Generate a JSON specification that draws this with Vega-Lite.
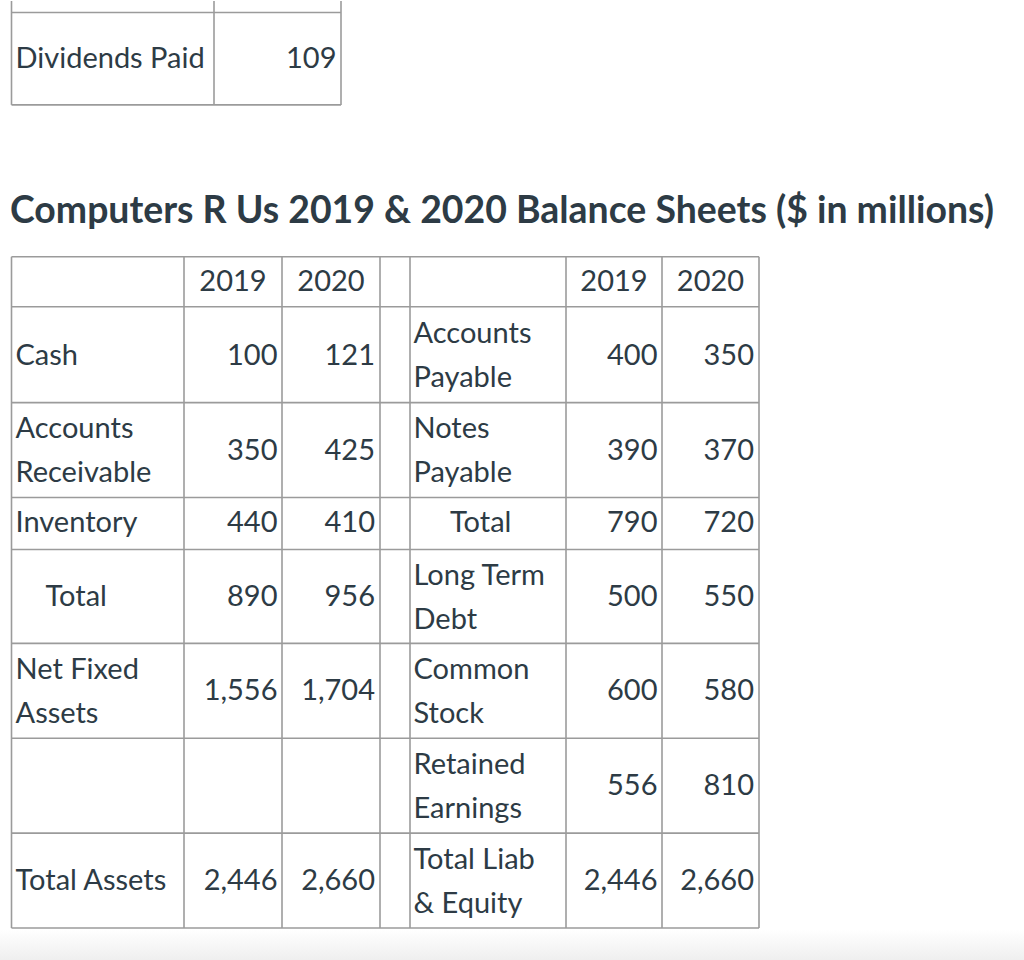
{
  "$schema": "https://vega.github.io/schema/vega-lite/v6.json",
  "width": 1024,
  "height": 960,
  "autosize": {"type": "fit", "contains": "padding"},
  "padding": 0,
  "background": "white",
  "config": {"view": {"stroke": null}},
  "datasets": {
    "band": [{"x": 0, "x2": 1024, "y": 929, "y2": 960}],
    "vlines": [
      {"x": 11.5, "y": 0, "y2": 104},
      {"x": 214, "y": 0, "y2": 104},
      {"x": 341, "y": 0, "y2": 104},
      {"x": 11.5, "y": 256, "y2": 928},
      {"x": 184, "y": 256, "y2": 928},
      {"x": 282, "y": 256, "y2": 928},
      {"x": 380, "y": 256, "y2": 928},
      {"x": 410, "y": 256, "y2": 928},
      {"x": 566, "y": 256, "y2": 928},
      {"x": 662, "y": 256, "y2": 928},
      {"x": 759, "y": 256, "y2": 928}
    ],
    "hlines": [
      {"y": 11.5, "x": 11.5, "x2": 341},
      {"y": 104, "x": 11.5, "x2": 341},
      {"y": 256, "x": 11.5, "x2": 759},
      {"y": 306, "x": 11.5, "x2": 759},
      {"y": 402, "x": 11.5, "x2": 759},
      {"y": 497, "x": 11.5, "x2": 759},
      {"y": 549, "x": 11.5, "x2": 759},
      {"y": 643, "x": 11.5, "x2": 759},
      {"y": 738, "x": 11.5, "x2": 759},
      {"y": 833, "x": 11.5, "x2": 759},
      {"y": 928, "x": 11.5, "x2": 759}
    ],
    "labels": [
      {"label": "Dividends Paid", "x": 15.5, "y": 58},
      {"label": "Cash", "x": 15.5, "y": 355},
      {"label": "Inventory", "x": 15.5, "y": 523},
      {"label": "Total", "x": 45.5, "y": 597},
      {"label": "Total Assets", "x": 15.5, "y": 881},
      {"label": "Total", "x": 450, "y": 523}
    ],
    "labels2": [
      {"label": "Accounts\nReceivable", "x": 15.5, "y": 450},
      {"label": "Net Fixed\nAssets", "x": 15.5, "y": 691},
      {"label": "Accounts\nPayable", "x": 413.5, "y": 355},
      {"label": "Notes\nPayable", "x": 413.5, "y": 450},
      {"label": "Long Term\nDebt", "x": 413.5, "y": 597},
      {"label": "Common\nStock", "x": 413.5, "y": 691},
      {"label": "Retained\nEarnings", "x": 413.5, "y": 786},
      {"label": "Total Liab\n& Equity", "x": 413.5, "y": 881}
    ],
    "headers": [
      {"year": "2019", "x": 233, "y": 281},
      {"year": "2020", "x": 331, "y": 281},
      {"year": "2019", "x": 614, "y": 281},
      {"year": "2020", "x": 710.5, "y": 281}
    ],
    "values": [
      {"item": "Dividends Paid", "value": 109, "x": 336.5, "y": 58},
      {"item": "Cash", "year": 2019, "value": 100, "x": 277.5, "y": 355},
      {"item": "Cash", "year": 2020, "value": 121, "x": 375, "y": 355},
      {"item": "Accounts Receivable", "year": 2019, "value": 350, "x": 277.5, "y": 450},
      {"item": "Accounts Receivable", "year": 2020, "value": 425, "x": 375, "y": 450},
      {"item": "Inventory", "year": 2019, "value": 440, "x": 277.5, "y": 523},
      {"item": "Inventory", "year": 2020, "value": 410, "x": 375, "y": 523},
      {"item": "Total Current Assets", "year": 2019, "value": 890, "x": 277.5, "y": 597},
      {"item": "Total Current Assets", "year": 2020, "value": 956, "x": 375, "y": 597},
      {"item": "Net Fixed Assets", "year": 2019, "value": 1556, "x": 277.5, "y": 691},
      {"item": "Net Fixed Assets", "year": 2020, "value": 1704, "x": 375, "y": 691},
      {"item": "Total Assets", "year": 2019, "value": 2446, "x": 277.5, "y": 881},
      {"item": "Total Assets", "year": 2020, "value": 2660, "x": 375, "y": 881},
      {"item": "Accounts Payable", "year": 2019, "value": 400, "x": 657.5, "y": 355},
      {"item": "Accounts Payable", "year": 2020, "value": 350, "x": 754, "y": 355},
      {"item": "Notes Payable", "year": 2019, "value": 390, "x": 657.5, "y": 450},
      {"item": "Notes Payable", "year": 2020, "value": 370, "x": 754, "y": 450},
      {"item": "Total Current Liabilities", "year": 2019, "value": 790, "x": 657.5, "y": 523},
      {"item": "Total Current Liabilities", "year": 2020, "value": 720, "x": 754, "y": 523},
      {"item": "Long Term Debt", "year": 2019, "value": 500, "x": 657.5, "y": 597},
      {"item": "Long Term Debt", "year": 2020, "value": 550, "x": 754, "y": 597},
      {"item": "Common Stock", "year": 2019, "value": 600, "x": 657.5, "y": 691},
      {"item": "Common Stock", "year": 2020, "value": 580, "x": 754, "y": 691},
      {"item": "Retained Earnings", "year": 2019, "value": 556, "x": 657.5, "y": 786},
      {"item": "Retained Earnings", "year": 2020, "value": 810, "x": 754, "y": 786},
      {"item": "Total Liab & Equity", "year": 2019, "value": 2446, "x": 657.5, "y": 881},
      {"item": "Total Liab & Equity", "year": 2020, "value": 2660, "x": 754, "y": 881}
    ],
    "title": [{"text": "Computers R Us 2019 & 2020 Balance Sheets ($ in millions)", "x": 10, "y": 211}]
  },
  "layer": [
    {
      "data": {"name": "band"},
      "mark": {"type": "rect", "color": {"gradient": "linear", "x1": 0, "y1": 0, "x2": 0, "y2": 1, "stops": [{"offset": 0, "color": "#ffffff"}, {"offset": 1, "color": "#efefef"}]}},
      "encoding": {
        "x": {"field": "x", "type": "quantitative", "scale": {"domain": [0, 1024], "nice": false, "zero": false}, "axis": null},
        "x2": {"field": "x2"},
        "y": {"field": "y", "type": "quantitative", "scale": {"domain": [0, 960], "nice": false, "zero": false, "reverse": true}, "axis": null},
        "y2": {"field": "y2"}
      }
    },
    {
      "data": {"name": "vlines"},
      "mark": {"type": "rule", "color": "#9b9b9b", "strokeWidth": 1.6},
      "encoding": {
        "x": {"field": "x", "type": "quantitative"},
        "y": {"field": "y", "type": "quantitative"},
        "y2": {"field": "y2"}
      }
    },
    {
      "data": {"name": "hlines"},
      "mark": {"type": "rule", "color": "#9b9b9b", "strokeWidth": 1.6},
      "encoding": {
        "y": {"field": "y", "type": "quantitative"},
        "x": {"field": "x", "type": "quantitative"},
        "x2": {"field": "x2"}
      }
    },
    {
      "data": {"name": "labels"},
      "mark": {"type": "text", "align": "left", "baseline": "middle", "font": "Lato", "fontSize": 29, "color": "#2D3B45"},
      "encoding": {
        "x": {"field": "x", "type": "quantitative"},
        "y": {"field": "y", "type": "quantitative"},
        "text": {"field": "label", "type": "nominal"}
      }
    },
    {
      "data": {"name": "labels2"},
      "mark": {"type": "text", "align": "left", "baseline": "middle", "dy": -21.5, "font": "Lato", "fontSize": 29, "lineHeight": 44, "lineBreak": "\n", "color": "#2D3B45"},
      "encoding": {
        "x": {"field": "x", "type": "quantitative"},
        "y": {"field": "y", "type": "quantitative"},
        "text": {"field": "label", "type": "nominal"}
      }
    },
    {
      "data": {"name": "headers"},
      "mark": {"type": "text", "align": "center", "baseline": "middle", "font": "Lato", "fontSize": 29, "color": "#2D3B45"},
      "encoding": {
        "x": {"field": "x", "type": "quantitative"},
        "y": {"field": "y", "type": "quantitative"},
        "text": {"field": "year", "type": "nominal"}
      }
    },
    {
      "data": {"name": "values"},
      "mark": {"type": "text", "align": "right", "baseline": "middle", "font": "Lato", "fontSize": 29, "color": "#2D3B45"},
      "encoding": {
        "x": {"field": "x", "type": "quantitative"},
        "y": {"field": "y", "type": "quantitative"},
        "text": {"field": "value", "type": "quantitative", "format": ","}
      }
    },
    {
      "data": {"name": "title"},
      "mark": {"type": "text", "align": "left", "baseline": "middle", "font": "Lato", "fontSize": 37.4, "fontWeight": "bold", "color": "#2D3B45"},
      "encoding": {
        "x": {"field": "x", "type": "quantitative"},
        "y": {"field": "y", "type": "quantitative"},
        "text": {"field": "text", "type": "nominal"}
      }
    }
  ]
}
